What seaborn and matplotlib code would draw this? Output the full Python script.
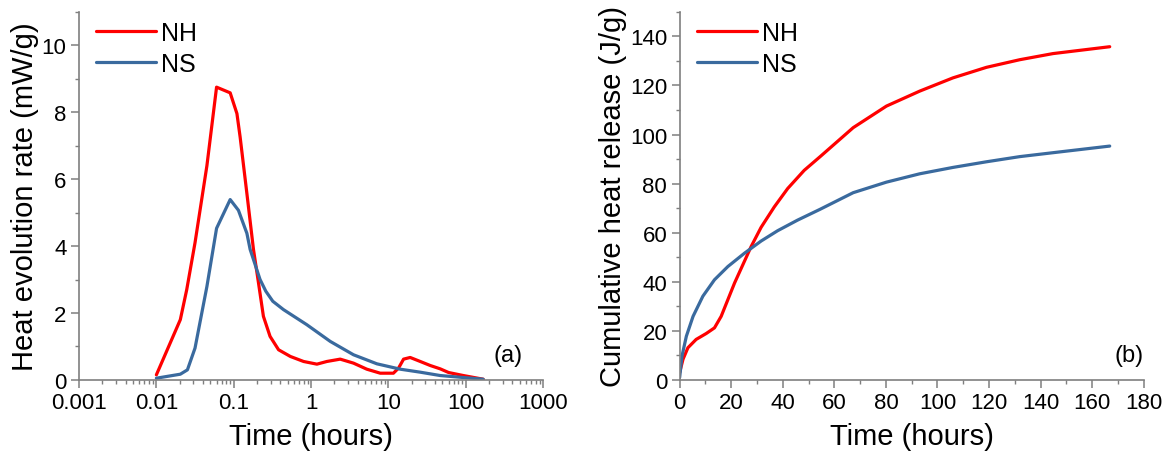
import pandas as pd
import matplotlib.pyplot as plt
import matplotlib.ticker as mticker
import seaborn as sns

# (a) heat evolution rate, log time axis
nh_rate_t = [0.01, 0.0204, 0.0247, 0.0316, 0.045, 0.060, 0.090, 0.110, 0.121, 0.148,
             0.18, 0.209, 0.242, 0.295, 0.38, 0.54, 0.80, 1.19, 1.6, 2.38, 3.54,
             5.25, 7.83, 11.6, 13.5, 15.7, 19.1, 25.8, 34.7, 46.7, 60, 93, 168]
nh_rate_v = [0.15, 1.8, 2.7, 4.1, 6.4, 8.75, 8.58, 7.96, 7.26, 5.57,
             3.9, 2.9, 1.9, 1.3, 0.9, 0.70, 0.55, 0.47, 0.55, 0.62, 0.50,
             0.32, 0.20, 0.20, 0.35, 0.62, 0.67, 0.55, 0.43, 0.33, 0.22, 0.13, 0.02]
ns_rate_t = [0.01, 0.0204, 0.0252, 0.0316, 0.045, 0.060, 0.090, 0.115, 0.148, 0.163,
             0.219, 0.26, 0.32, 0.44, 0.88, 1.77, 3.54, 7.1, 14.2, 25.8, 46.7, 168]
ns_rate_v = [0.05, 0.17, 0.30, 0.95, 2.79, 4.53, 5.39, 5.07, 4.38, 3.9,
             3.0, 2.65, 2.35, 2.1, 1.65, 1.15, 0.75, 0.48, 0.32, 0.23, 0.13, 0.02]

# (b) cumulative heat release
nh_cum_t = [0, 1.3, 3.2, 6.4, 10.3, 13.5, 16.1, 18.7, 21.3, 24.5, 27.7, 31.6,
            36.7, 41.9, 48.3, 54.6, 67.3, 80.2, 93.1, 106, 119, 131.9, 144.8, 166.8]
nh_cum_v = [3, 8.4, 13.1, 16.5, 18.9, 21.2, 25.9, 32.7, 39.5, 46.9, 54.3, 62.2,
            70.5, 78.0, 85.4, 91.1, 102.8, 111.6, 117.7, 123.1, 127.4, 130.5, 133.0, 135.8]
ns_cum_t = [0, 0.9, 2.6, 5.2, 9.0, 13.5, 18.7, 25.1, 31.6, 38.0, 45.7, 54.4,
            67.3, 80.2, 93.1, 106, 119, 131.9, 144.8, 166.8]
ns_cum_v = [1, 9.7, 17.8, 25.9, 34.1, 40.8, 46.2, 51.6, 56.6, 60.8, 65.1, 69.5,
            76.3, 80.6, 84.0, 86.6, 88.9, 91.0, 92.6, 95.3]

df_rate = pd.concat([
    pd.DataFrame({'t': nh_rate_t, 'v': nh_rate_v, 'sample': 'NH'}),
    pd.DataFrame({'t': ns_rate_t, 'v': ns_rate_v, 'sample': 'NS'}),
])
df_cum = pd.concat([
    pd.DataFrame({'t': nh_cum_t, 'v': nh_cum_v, 'sample': 'NH'}),
    pd.DataFrame({'t': ns_cum_t, 'v': ns_cum_v, 'sample': 'NS'}),
])

sns.set_style('ticks')
plt.rcParams['font.family'] = ['Liberation Sans', 'DejaVu Sans']
plt.rcParams['text.color'] = 'black'
plt.rcParams['axes.labelcolor'] = 'black'
palette = {'NH': '#ff0000', 'NS': '#3a6a9e'}
spine_col = '#7f7f7f'

fig = plt.figure(figsize=(11.69, 4.6), dpi=100)
ax1 = fig.add_axes([0.0676, 0.172, 0.397, 0.80])
ax2 = fig.add_axes([0.5814, 0.172, 0.397, 0.80])

sns.lineplot(data=df_rate, x='t', y='v', hue='sample', palette=palette,
             sort=False, estimator=None, lw=2.3, ax=ax1)
sns.lineplot(data=df_cum, x='t', y='v', hue='sample', palette=palette,
             sort=False, estimator=None, lw=2.3, ax=ax2)

ax1.set_xscale('log')
ax1.set_xlim(0.001, 1000)
ax1.set_ylim(0, 11)
ax1.xaxis.set_major_locator(mticker.LogLocator(base=10, numticks=10))
ax1.xaxis.set_minor_locator(mticker.LogLocator(base=10, subs=range(2, 10), numticks=20))
ax1.xaxis.set_major_formatter(mticker.FuncFormatter(lambda v, p: f'{v:g}'))
ax1.xaxis.set_minor_formatter(mticker.NullFormatter())
ax1.set_yticks([0, 2, 4, 6, 8, 10])
ax1.yaxis.set_minor_locator(mticker.MultipleLocator(1))
ax1.set_xlabel('Time (hours)', fontsize=21, labelpad=6)
ax1.set_ylabel('Heat evolution rate (mW/g)', fontsize=21, labelpad=2)
ax1.text(0.955, 0.05, '(a)', transform=ax1.transAxes, fontsize=17, ha='right')

ax2.set_xlim(0, 180)
ax2.set_ylim(0, 150)
ax2.set_xticks(range(0, 181, 20))
ax2.xaxis.set_minor_locator(mticker.MultipleLocator(10))
ax2.set_yticks(range(0, 141, 20))
ax2.yaxis.set_minor_locator(mticker.MultipleLocator(10))
ax2.set_xlabel('Time (hours)', fontsize=21, labelpad=6)
ax2.set_ylabel('Cumulative heat release (J/g)', fontsize=21, labelpad=2)
ax2.text(1.0, 0.05, '(b)', transform=ax2.transAxes, fontsize=17, ha='right')

for ax in (ax1, ax2):
    sns.despine(ax=ax)
    for s in ('left', 'bottom'):
        ax.spines[s].set_color(spine_col)
        ax.spines[s].set_linewidth(1.2)
    ax.tick_params(which='major', direction='out', length=6, width=1.1,
                   color=spine_col, labelsize=16, labelcolor='black', pad=3)
    ax.tick_params(which='minor', direction='out', length=3, width=1.0, color=spine_col)
    ax.grid(False)
    ax.legend(loc='upper left', frameon=False, fontsize=18, title=None,
              handlelength=2.4, handletextpad=0.2, labelspacing=0.3,
              borderaxespad=0.1, bbox_to_anchor=(0.01, 1.01))

fig.savefig('out.png', dpi=100, facecolor='white')
plt.close()
